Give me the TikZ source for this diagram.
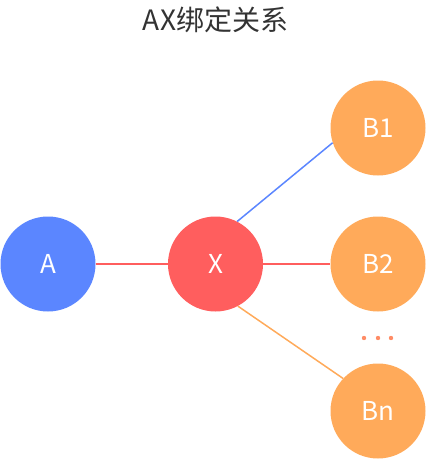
\documentclass[tikz,border=0pt]{standalone}
\usepackage{fontspec}
\setmainfont{Noto Sans CJK SC}
\definecolor{cblue}{HTML}{5B86FF}
\definecolor{cred}{HTML}{FF5E5E}
\definecolor{corange}{HTML}{FFAA5A}
\definecolor{cdots}{HTML}{FF8C66}
\definecolor{ctitle}{HTML}{333333}
\begin{document}
\begin{tikzpicture}[x=1pt,y=-1pt,
  ball/.style={circle,minimum size=95pt,inner sep=0pt,text=white,font=\fontsize{26}{28}\selectfont},
  link/.style={line width=1.5pt}]
\useasboundingbox (0,0) rectangle (426,460);
\node[text=ctitle,font=\fontsize{28}{30}\selectfont] (title) at (215.5,20) {AX绑定关系};
\node[ball,fill=cblue] (A) at (48,264) {A};
\node[ball,fill=cred] (X) at (215.5,264) {X};
\node[ball,fill=corange] (B1) at (378,128) {B1};
\node[ball,fill=corange] (B2) at (378,264) {B2};
\node[ball,fill=corange] (Bn) at (378,411) {Bn};
\draw[link,cred] (A) -- (X);
\draw[link,cred] (X) -- (B2);
\draw[link,cblue] (X.63) -- (B1.198);
\draw[link,corange] (X.-62) -- (Bn.137);
\foreach \i/\xx in {1/364,2/378,3/391}{
  \fill[cdots] (\xx,338) circle (2.2pt);
}
\end{tikzpicture}
\end{document}
